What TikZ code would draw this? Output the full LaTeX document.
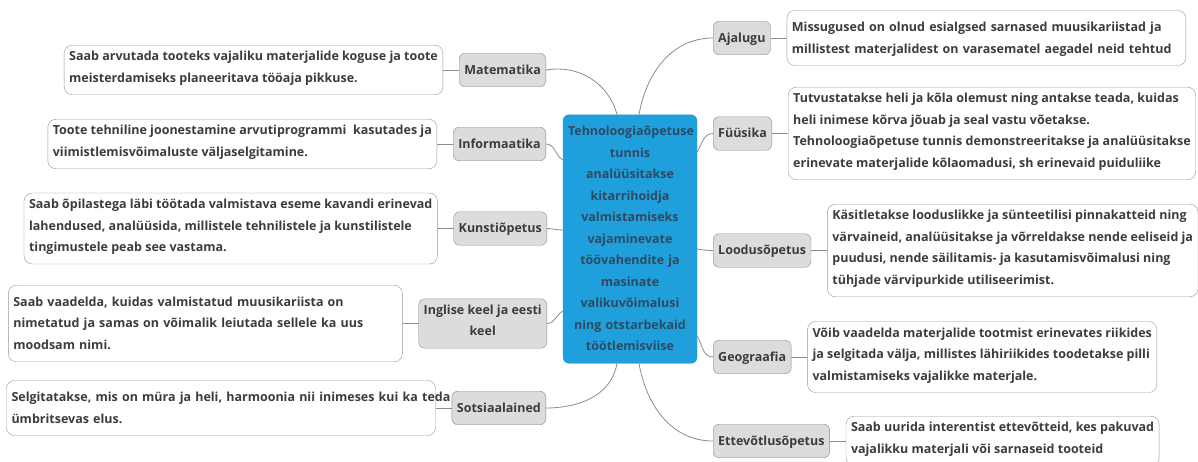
\documentclass[tikz,border=0pt]{standalone}
\usepackage{fontspec}
\setmainfont{Open Sans}
\usetikzlibrary{positioning}
\definecolor{hub}{HTML}{1FA0DC}
\definecolor{hubtext}{HTML}{2E4A62}
\definecolor{tagfill}{HTML}{DCDCDC}
\definecolor{edge}{HTML}{8C8C8C}
\definecolor{ink}{HTML}{3C3C3C}

\begin{document}
\begin{tikzpicture}[x=1pt, y=-1pt,
    every node/.style={font=\fontsize{12.5}{21.5}\selectfont\bfseries, inner ysep=6pt, inner xsep=5pt,
      execute at begin node=\strut, execute at end node=\strut},
    hubbox/.style={draw=hub, fill=hub, text=hubtext, rounded corners=6pt, text width=124pt, align=center},
    tag/.style={draw=edge, fill=tagfill, text=ink, rounded corners=6pt, align=center},
    info/.style={draw=edge!90, fill=white, text=ink, rounded corners=8pt, align=left},
    link/.style={draw=edge, line width=0.8pt}]
    \useasboundingbox (0,0) rectangle (1198,461);
    \fill[white] (0,0) rectangle (1198,461);
    \clip (0,0) rectangle (1198,461);

    \node(C) [hubbox] at (630,239) {Tehnoloogiaõpetuse\\tunnis\\analüüsitakse\\kitarrihoidja\\valmistamiseks\\vajaminevate\\töövahendite ja\\masinate\\valikuvõimalusi\\ning otstarbekaid\\töötlemisviise};

    \node(Ma) [tag, anchor=east] at (546,70) {Matematika};
    \node(In) [tag, anchor=east] at (546,144) {Informaatika};
    \node(Ku) [tag, anchor=east] at (547,228.5) {Kunstiõpetus};
    \node(Ik) [tag, anchor=east] at (547,323.5) {Inglise keel ja eesti\\keel};
    \node(So) [tag, anchor=east] at (546,408) {Sotsiaalained};
    \node(Aj) [tag, anchor=west] at (713,38) {Ajalugu};
    \node(Fy) [tag, anchor=west] at (713,133.5) {Füüsika};
    \node(Lo) [tag, anchor=west] at (713,250.5) {Loodusõpetus};
    \node(Ge) [tag, anchor=west] at (713,357) {Geograafia};
    \node(Et) [tag, anchor=west] at (713,441) {Ettevõtlusõpetus};

    \node(MaT) [info, left=16pt of Ma] {Saab arvutada tooteks vajaliku materjalide koguse ja toote\\meisterdamiseks planeeritava tööaja pikkuse.};
    \node(InT) [info, left=16pt of In] {Toote tehniline joonestamine arvutiprogrammi~ kasutades ja\\viimistlemisvõimaluste väljaselgitamine.};
    \node(KuT) [info, left=16pt of Ku] {Saab õpilastega läbi töötada valmistava eseme kavandi erinevad\\lahendused, analüüsida, millistele tehnilistele ja kunstilistele\\tingimustele peab see vastama.};
    \node(IkT) [info, text width=384pt, left=16pt of Ik] {Saab vaadelda, kuidas valmistatud muusikariista on\\nimetatud ja samas on võimalik leiutada sellele ka uus\\moodsam nimi.};
    \node(SoT) [info, text width=419pt, left=16pt of So] {\mbox{Selgitatakse, mis on müra ja heli, harmoonia nii inimeses kui ka teda}\\ümbritsevas elus.};
    \node(AjT) [info, text width=389pt, right=16pt of Aj] {Missugused on olnud esialgsed sarnased muusikariistad ja\\millistest materjalidest on varasematel aegadel neid tehtud};
    \node(FyT) [info, right=16pt of Fy] {Tutvustatakse heli ja kõla olemust ning antakse teada, kuidas\\heli inimese kõrva jõuab ja seal vastu võetakse.\\Tehnoloogiaõpetuse tunnis demonstreeritakse ja analüüsitakse\\erinevate materjalide kõlaomadusi, sh erinevaid puiduliike};
    \node(LoT) [info, right=16pt of Lo] {Käsitletakse looduslikke ja sünteetilisi pinnakatteid ning\\värvaineid, analüüsitakse ja võrreldakse nende eeliseid ja\\puudusi, nende säilitamis- ja kasutamisvõimalusi ning\\tühjade värvipurkide utiliseerimist.};
    \node(GeT) [info, right=16pt of Ge] {Võib vaadelda materjalide tootmist erinevates riikides\\ja selgitada välja, millistes lähiriikides toodetakse pilli\\valmistamiseks vajalikke materjale.};
    \node(EtT) [info, right=16pt of Et] {Saab uurida interentist ettevõtteid, kes pakuvad\\vajalikku materjali või sarnaseid tooteid};

    \draw[link](Ma.east) to[out=10,in=105] ([xshift=-13pt]C.north);
    \draw[link](In.east) to[out=0,in=150] ([yshift=79pt]C.west);
    \draw[link](Ku.east) to[out=0,in=180] ([yshift=9pt]C.west);
    \draw[link](Ik.east) to[out=0,in=210] ([yshift=-72pt]C.west);
    \draw[link](So.east) to[out=0,in=-100] ([xshift=-13pt]C.south);
    \draw[link]([xshift=9pt]C.north) to[out=80,in=180] (Aj.west);
    \draw[link]([yshift=87pt]C.east) to[out=60,in=180] (Fy.west);
    \draw[link]([yshift=-10pt]C.east) to[out=-10,in=180] (Lo.west);
    \draw[link]([yshift=-97pt]C.east) to[out=-60,in=180] (Ge.west);
    \draw[link]([xshift=9pt]C.south) to[out=-80,in=180] (Et.west);
    \draw[link](MaT) -- (Ma);
    \draw[link](InT) -- (In);
    \draw[link](KuT) -- (Ku);
    \draw[link](IkT) -- (Ik);
    \draw[link](SoT) -- (So);
    \draw[link](AjT) -- (Aj);
    \draw[link](FyT) -- (Fy);
    \draw[link](LoT) -- (Lo);
    \draw[link](GeT) -- (Ge);
    \draw[link](EtT) -- (Et);
\end{tikzpicture}
\end{document}
